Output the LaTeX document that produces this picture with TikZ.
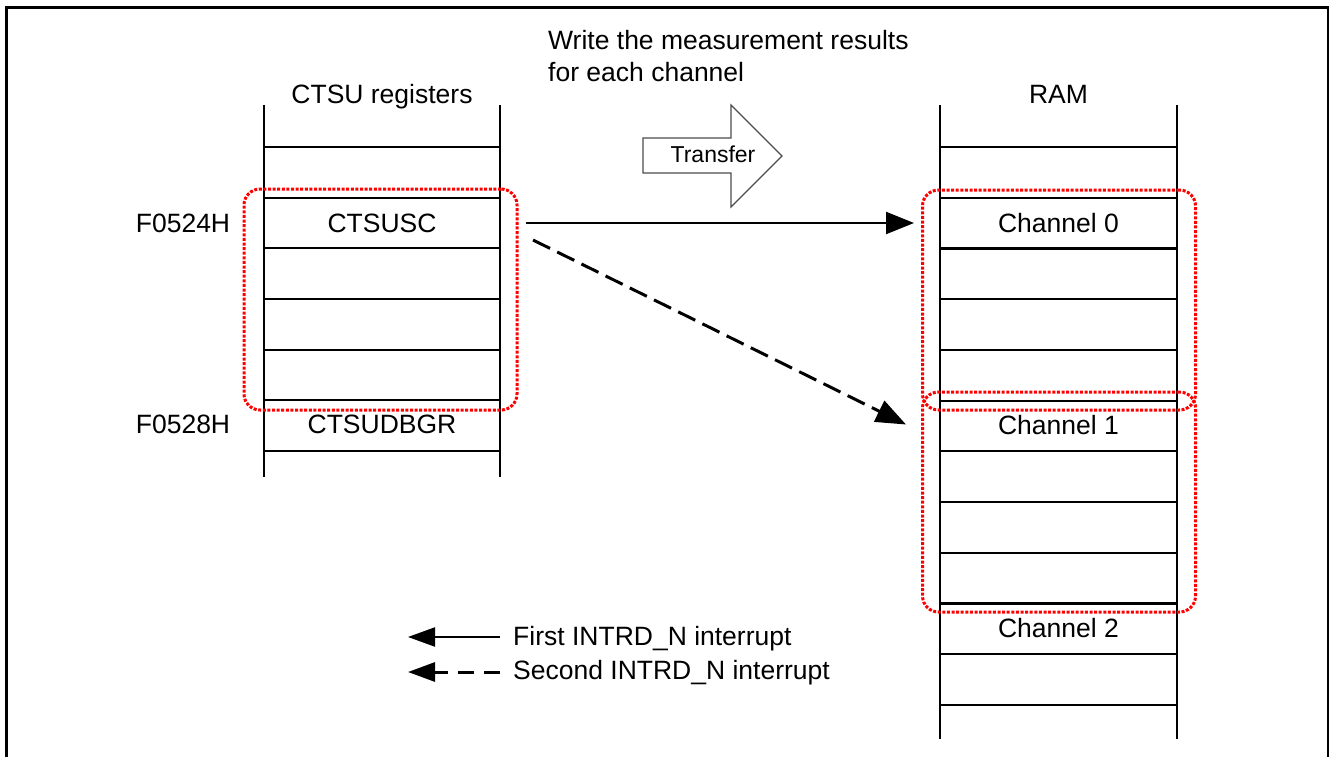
\documentclass[tikz,border=0pt]{standalone}
\usepackage{fontspec}
\setmainfont{Liberation Sans}
\usetikzlibrary{arrows.meta}
\begin{document}
\begin{tikzpicture}[x=1pt,y=-1pt,
  lbl/.style={font=\fontsize{26.5}{32}\selectfont, inner sep=0pt},
  cellt/.style={lbl, text height=19pt, text depth=0pt},
  memline/.style={line width=2.2pt, black},
  redbox/.style={draw=red, line width=3pt, dash pattern=on 3pt off 1.6pt,
                 rounded corners=16pt, inner sep=0pt, minimum width=273pt},
  link/.style={line width=2.2pt, -{Triangle[length=28pt,width=22pt]}},
  dlink/.style={line width=3pt, dash pattern=on 19pt off 8pt,
                -{Triangle[length=30pt,width=23pt]}},
  legsolid/.style={line width=2.2pt, -{Triangle[length=27pt,width=19pt]}},
  legdash/.style={line width=3pt, dash pattern=on 16pt off 10pt,
                  -{Triangle[length=27pt,width=19pt]}},
  xferbox/.style={draw=black!70, line width=1.2pt, fill=white, line join=miter}
]
\useasboundingbox (0,0) rectangle (1330,757);

% outer frame (open at the bottom)
\draw[line width=2.2pt] (6.5,757) -- (6.5,7.5) -- (1328,7.5) -- (1328,757);

% heading text
\node[lbl, anchor=base west] (note1) at (548,50) {Write the measurement results};
\node[lbl, anchor=base west] (note2) at (548,82) {for each channel};

% transfer block arrow
\draw[xferbox] (643,138) -- (731,138) -- (731,105) -- (782,156) -- (731,207)
  -- (731,173) -- (643,173) -- cycle;
\node[font=\fontsize{23}{28}\selectfont, inner sep=0pt, anchor=base] (xfer) at (713,162) {Transfer};

% CTSU register column
\node[lbl, anchor=base] (regs) at (382,104) {CTSU registers};
\draw[memline] (264,105) -- (264,477);
\draw[memline] (500,105) -- (500,477);
\foreach \r in {0,...,6}
  \draw[memline] (264,147+50.67*\r) -- (500,147+50.67*\r);
\node[cellt] (usc) at (382,223) {CTSUSC};
\node[cellt] (dbgr) at (382,424) {CTSUDBGR};
\node[lbl, anchor=base] (adr1) at (183,232) {F0524H};
\node[lbl, anchor=base] (adr2) at (183,433) {F0528H};

% RAM column
\node[lbl, anchor=base] (ram) at (1058.5,104) {RAM};
\draw[memline] (940,105) -- (940,739);
\draw[memline] (1177,105) -- (1177,739);
\foreach \r in {0,...,11}
  \draw[memline] (940,147+50.73*\r) -- (1177,147+50.73*\r);
\node[cellt] (ch0) at (1058.5,223) {Channel 0};
\node[cellt] (ch1) at (1058.5,424.5) {Channel 1};
\node[cellt] (ch2) at (1058.5,628) {Channel 2};

% groups moved per interrupt
\node[redbox, minimum height=221pt] (lbox) at (380.5,299.5) {};
\node[redbox, minimum height=220pt] (rbox1) at (1059,300) {};
\node[redbox, minimum height=220pt] (rbox2) at (1059,502) {};

% transfers
\draw[link, shorten <=7pt, shorten >=7pt] (lbox.east |- usc) -- (rbox1.west |- usc);
\coordinate (dA) at (533,240);
\coordinate (dB) at ([xshift=-15pt]rbox2.west |- ch1);
\draw[dlink] (dA) -- (dB);

% legend
\node[lbl, anchor=base west] (leg1) at (513,645) {First INTRD\_N interrupt};
\node[lbl, anchor=base west] (leg2) at (513,679) {Second INTRD\_N interrupt};
\coordinate (l1) at ([shift={(-13pt,8pt)}]leg1.base west);
\coordinate (l2) at ([shift={(-13pt,7pt)}]leg2.base west);
\draw[legsolid] (l1) -- ++(-92,0);
\draw[legdash] (l2) -- ++(-92,0);
\end{tikzpicture}
\end{document}
